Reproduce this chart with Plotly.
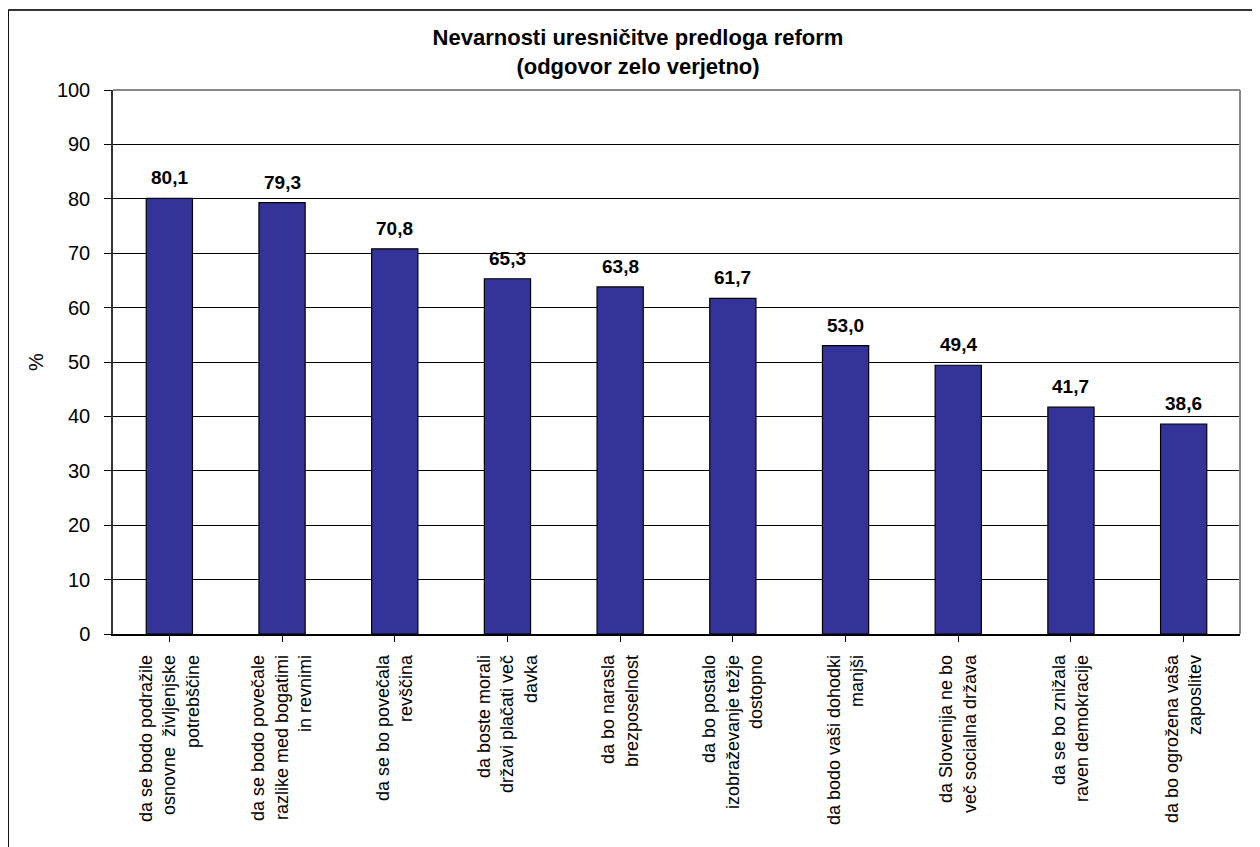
import plotly.graph_objects as go

categories = [
    "da se bodo podražile<br>osnovne  življenjske<br>potrebščine",
    "da se bodo povečale<br>razlike med bogatimi<br>in revnimi",
    "da se bo povečala<br>revščina",
    "da boste morali<br>državi plačati več<br>davka",
    "da bo narasla<br>brezposelnost",
    "da bo postalo<br>izobraževanje težje<br>dostopno",
    "da bodo vaši dohodki<br>manjši",
    "da Slovenija ne bo<br>več socialna država",
    "da se bo znižala<br>raven demokracije",
    "da bo ogrožena vaša<br>zaposlitev",
]
values = [80.1, 79.3, 70.8, 65.3, 63.8, 61.7, 53.0, 49.4, 41.7, 38.6]
value_labels = [f"{v:.1f}".replace(".", ",") for v in values]
y_ticks = list(range(0, 101, 10))

FONT = "Liberation Sans, Arial, sans-serif"
xs = list(range(len(categories)))

fig = go.Figure()
fig.add_trace(go.Bar(
    x=xs,
    y=values,
    marker=dict(color="#333399", line=dict(color="black", width=1.2)),
    width=0.41,
    hoverinfo="skip",
))

annotations = [
    dict(x=x, y=v, xref="x", yref="y", text=f"<b>{t}</b>", showarrow=False,
         yanchor="bottom", yshift=8, font=dict(family=FONT, size=19, color="black"))
    for x, v, t in zip(xs, values, value_labels)
]

fig.update_layout(
    width=1260, height=847,
    margin=dict(l=105, r=28, t=82, b=221),
    paper_bgcolor="white", plot_bgcolor="white",
    showlegend=False,
    font=dict(family=FONT, color="black"),
    title=dict(
        text="<b>Nevarnosti uresničitve predloga reform<br>(odgovor zelo verjetno)</b>",
        x=0.5, xanchor="center", y=0.956, yanchor="top",
        font=dict(family=FONT, size=22, color="black"),
    ),
    annotations=annotations,
    xaxis=dict(
        tickmode="array",
        tickvals=xs,
        ticktext=categories,
        range=[-0.5, len(categories) - 0.5],
        tickangle=-90,
        tickfont=dict(family=FONT, size=18, color="black"),
        ticks="outside", ticklen=6, tickcolor="black",
        tickson="boundaries",
        ticklabelstandoff=6,
        showline=True, linecolor="black", linewidth=1.5,
        showgrid=False, zeroline=False,
    ),
    yaxis=dict(
        range=[0, 100],
        tickmode="array", tickvals=y_ticks,
        tickfont=dict(family=FONT, size=20, color="black"),
        ticks="outside", ticklen=7, tickcolor="black",
        ticklabelstandoff=10,
        showline=True, linecolor="#333333", linewidth=1.5,
        showgrid=True, gridcolor="black", gridwidth=1,
        zeroline=False,
        title=dict(text="%", font=dict(family=FONT, size=20, color="black"), standoff=8),
    ),
    shapes=[
        # outer chart frame
        dict(type="line", xref="paper", yref="paper", x0=-0.093, x1=1.1, y0=1.147, y1=1.147,
             line=dict(color="#333333", width=2)),
        dict(type="line", xref="paper", yref="paper", x0=-0.093, x1=-0.093, y0=1.147, y1=-0.5,
             line=dict(color="black", width=1.5)),
        # plot area border (top/right)
        dict(type="line", xref="paper", yref="paper", x0=0, x1=1, y0=1, y1=1,
             line=dict(color="#888888", width=2)),
        dict(type="line", xref="paper", yref="paper", x0=1, x1=1, y0=0, y1=1,
             line=dict(color="#888888", width=2)),
    ],
)

fig.write_html("out.html")
